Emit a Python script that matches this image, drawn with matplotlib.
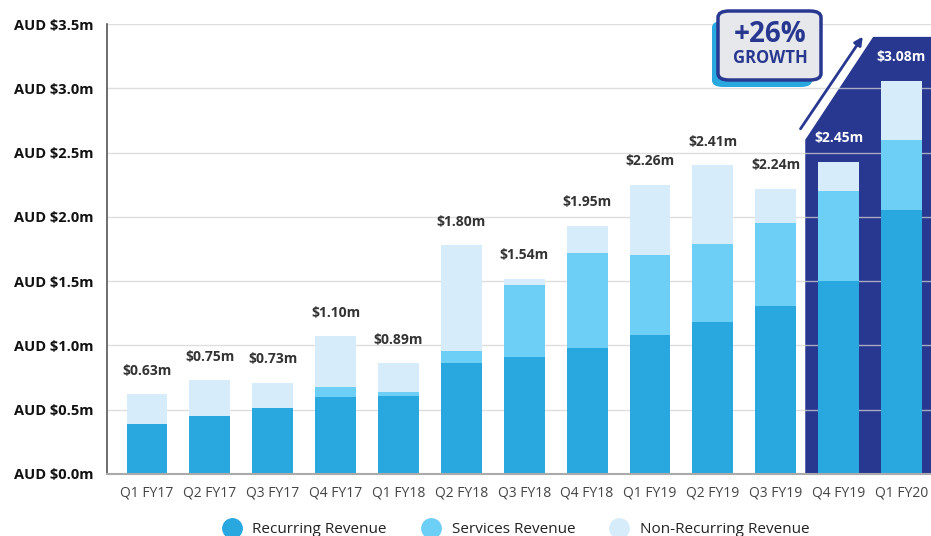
import matplotlib.pyplot as plt
from matplotlib.patches import FancyBboxPatch, Polygon
from matplotlib.lines import Line2D
import numpy as np

plt.rcParams['font.family'] = ['Open Sans', 'DejaVu Sans']

quarters = ['Q1 FY17', 'Q2 FY17', 'Q3 FY17', 'Q4 FY17', 'Q1 FY18', 'Q2 FY18', 'Q3 FY18',
            'Q4 FY18', 'Q1 FY19', 'Q2 FY19', 'Q3 FY19', 'Q4 FY19', 'Q1 FY20']
recurring = [0.39, 0.45, 0.51, 0.60, 0.61, 0.86, 0.91, 0.98, 1.08, 1.18, 1.31, 1.50, 2.05]
services = [0.0, 0.0, 0.0, 0.08, 0.03, 0.10, 0.56, 0.74, 0.62, 0.61, 0.64, 0.70, 0.55]
non_recurring = [0.23, 0.28, 0.20, 0.39, 0.22, 0.82, 0.05, 0.21, 0.55, 0.61, 0.27, 0.23, 0.46]
total_labels = ['$0.63m', '$0.75m', '$0.73m', '$1.10m', '$0.89m', '$1.80m', '$1.54m',
                '$1.95m', '$2.26m', '$2.41m', '$2.24m', '$2.45m', '$3.08m']
yticks = [0, 0.5, 1.0, 1.5, 2.0, 2.5, 3.0, 3.5]
n_highlight = 2  # last two quarters sit on the navy panel

c_rec = '#29a8e0'
c_srv = '#6dcff6'
c_non = '#d6ecfa'
navy = '#283891'

fig = plt.figure(figsize=(9.31, 5.36), dpi=100)
ax = fig.add_axes([0.1149, 0.1157, 0.8851, 0.8395])

x = np.arange(len(quarters))
rec = np.array(recurring)
srv = np.array(services)
non = np.array(non_recurring)
w = 0.65

ax.bar(x, rec, w, color=c_rec, zorder=3)
ax.bar(x, srv, w, bottom=rec, color=c_srv, zorder=3)
ax.bar(x, non, w, bottom=rec + srv, color=c_non, zorder=3)

ax.set_xlim(-0.636, len(quarters) - 0.53)
ax.set_ylim(0, 3.5)

# navy highlight panel behind the last quarters
x0 = len(quarters) - n_highlight - 0.53
panel = Polygon([(x0, 0), (x0, 2.6), (x0 + 1.08, 3.40), (len(quarters) + 1, 3.40),
                 (len(quarters) + 1, 0)], closed=True, facecolor=navy, edgecolor='none',
                zorder=1, clip_on=True)
ax.add_patch(panel)

for yv in yticks:
    ax.axhline(yv, color='#d4d4d4', lw=1, alpha=0.75, zorder=2)

for i in range(len(quarters)):
    top = rec[i] + srv[i] + non[i]
    col = 'white' if i >= len(quarters) - n_highlight else '#333333'
    ax.annotate(total_labels[i], (x[i], top), xytext=(0, 17), textcoords='offset points',
                ha='center', va='center', fontsize=10, fontweight='bold', color=col, zorder=4)

# growth arrow
ax.annotate('', xy=(11.41, 3.42), xytext=(10.37, 2.667),
            arrowprops=dict(arrowstyle='-|>', color=navy, lw=2, mutation_scale=12),
            annotation_clip=False, zorder=5)

ax.set_xticks(x)
ax.set_xticklabels(quarters, fontsize=10, color='#444444')
ax.set_yticks(yticks)
ax.set_yticklabels(['AUD $%.1fm' % v for v in yticks], fontsize=10.5, fontweight='bold', color='#111111')
ax.tick_params(axis='both', length=0)
ax.tick_params(axis='y', pad=10)
ax.tick_params(axis='x', pad=8)

for s in ['top', 'right']:
    ax.spines[s].set_visible(False)
ax.spines['left'].set_color('#555555')
ax.spines['left'].set_linewidth(1.2)
ax.spines['bottom'].set_color('#aaaaaa')
ax.spines['bottom'].set_linewidth(1.5)
ax.spines['left'].set_zorder(6)
ax.spines['bottom'].set_zorder(6)

# "+26% GROWTH" callout
W, H = 931.0, 536.0
shadow = FancyBboxPatch((712 / W, 1 - 87 / H), 100 / W, 66 / H,
                        boxstyle='round,pad=0,rounding_size=0.012',
                        transform=fig.transFigure, facecolor=c_rec, edgecolor='none', zorder=10)
box = FancyBboxPatch((718 / W, 1 - 80 / H), 103 / W, 69 / H,
                     boxstyle='round,pad=0,rounding_size=0.012',
                     transform=fig.transFigure, facecolor='#e7e8eb', edgecolor=navy, lw=2.5, zorder=11)
fig.patches.extend([shadow, box])
fig.text(770 / W, 1 - 35 / H, '+26%', ha='center', va='center', fontsize=20,
         fontweight='bold', color=navy, zorder=12)
fig.text(770 / W, 1 - 58 / H, 'GROWTH', ha='center', va='center', fontsize=12,
         fontweight='bold', color=navy, zorder=12)

handles = [Line2D([], [], marker='o', ls='none', markersize=14, color=c)
           for c in (c_rec, c_srv, c_non)]
fig.legend(handles, ['Recurring Revenue', 'Services Revenue', 'Non-Recurring Revenue'],
           loc='center', bbox_to_anchor=(0.551, 0.012), ncol=3, frameon=False,
           fontsize=11, columnspacing=1.9, handletextpad=0.35, labelcolor='#222222')

fig.savefig('out.png', dpi=100)
